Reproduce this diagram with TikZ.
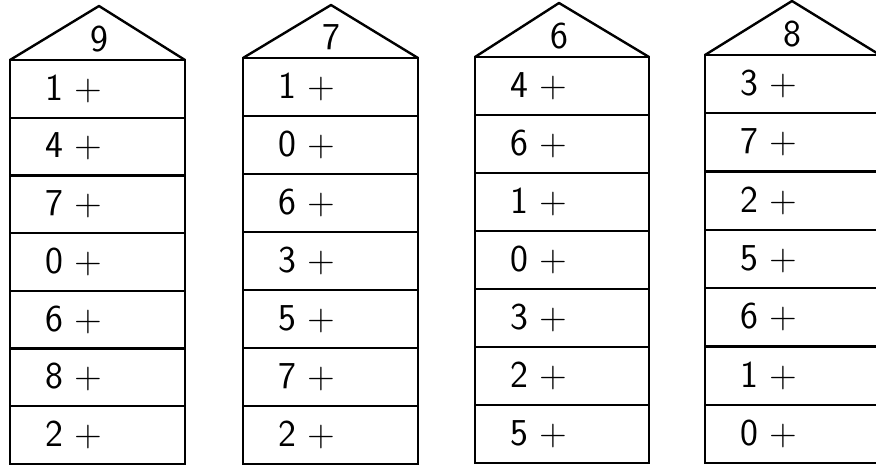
\documentclass[tikz,border=0pt]{standalone}
\begin{document}
\begin{tikzpicture}[x=1pt,y=-1pt,line width=2.4pt,font=\sffamily\fontsize{38}{38}\selectfont]
	\useasboundingbox (0,0) rectangle (876,466);
	\clip (0,0) rectangle (876,466);
	% Maisons : numero/gauche/droite/haut/bas/faite x/faite y/nombre/lignes
	\foreach \h/\l/\r/\t/\b/\ax/\ay/\n/\rows in {
		1/10/185/60/464/99/6/9/{1,4,7,0,6,8,2},
		2/243/418/58/464/331/5/7/{1,0,6,3,5,7,2},
		3/475/649/57/463/559/3/6/{4,6,1,0,3,2,5},
		4/705/880/55/463/792/1/8/{3,7,2,5,6,1,0}}{
		\pgfmathsetmacro\rh{(\b-\t)/7}
		\draw[line join=round] (\l,\t) -- (\ax,\ay) -- (\r,\t);
		\draw (\l,\t) rectangle (\r,\b);
		\node (roof\h) at (\ax,\t-21) {\n};
		\foreach \d [count=\i] in \rows {
			\ifnum\i>1 \draw (\l,\t+\rh*\i-\rh) -- (\r,\t+\rh*\i-\rh); \fi
			\node[anchor=west, inner sep=0pt] (cell\h-\i) at (\l+34,\t+\rh*\i-\rh/2) {\d\ +};
		}
	}
\end{tikzpicture}
\end{document}
